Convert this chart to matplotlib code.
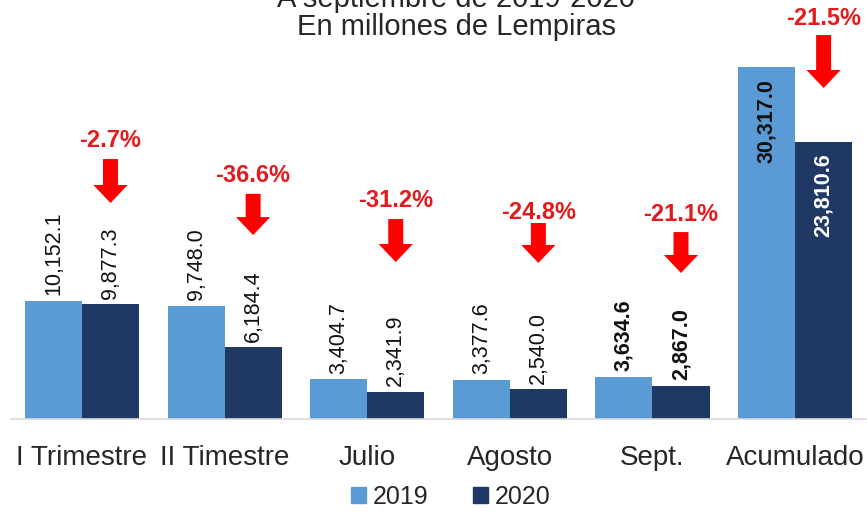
import matplotlib
matplotlib.use("Agg")
import matplotlib.pyplot as plt
from matplotlib.patches import FancyArrow, Rectangle
import numpy as np

plt.rcParams['font.family'] = ['Liberation Sans', 'DejaVu Sans']

categories = ["I Trimestre", "II Timestre", "Julio", "Agosto", "Sept.", "Acumulado"]
values_2019 = [10152.1, 9748.0, 3404.7, 3377.6, 3634.6, 30317.0]
values_2020 = [9877.3, 6184.4, 2341.9, 2540.0, 2867.0, 23810.6]
labels_2019 = ["10,152.1", "9,748.0", "3,404.7", "3,377.6", "3,634.6", "30,317.0"]
labels_2020 = ["9,877.3", "6,184.4", "2,341.9", "2,540.0", "2,867.0", "23,810.6"]
pct_labels = ["-2.7%", "-36.6%", "-31.2%", "-24.8%", "-21.1%", "-21.5%"]

# layout (arrow/text heights in data units)
pct_text_y = [24010, 21000, 18850, 17810, 17560, 34500]
arrow_top = [22375, 19380, 17210, 16870, 16090, 33050]
arrow_tip = [18590, 15830, 13510, 13430, 12570, 28490]

c2019 = "#5B9BD5"
c2020 = "#203864"
red = "#FF0000"
pct_red = "#E31A1C"

fig = plt.figure(figsize=(8.67, 5.16), dpi=100)
ax = fig.add_axes([0.0123, 0.188, 0.987, 0.788])

x = np.arange(len(categories))
w = 0.4
ax.bar(x - w / 2, values_2019, width=w, color=c2019, label="2019")
ax.bar(x + w / 2, values_2020, width=w, color=c2020, label="2020")

ax.set_xlim(-0.5, len(categories) - 0.5)
ax.set_ylim(0, 35000)
ax.set_yticks([])
for s in ["top", "right", "left"]:
    ax.spines[s].set_visible(False)
ax.spines["bottom"].set_color("#D9D9D9")
ax.spines["bottom"].set_linewidth(1.2)
ax.set_xticks(x)
ax.set_xticklabels(categories, fontsize=20, color="#262626")
ax.tick_params(axis="x", length=0, pad=19)

n = len(categories)
for i in range(n):
    bold = i >= n - 2
    fw = "bold" if bold else "normal"
    if i == n - 1:
        ax.annotate(labels_2019[i], (x[i] - w / 2, values_2019[i]), xytext=(0, -9),
                    textcoords="offset points", rotation=90, ha="center", va="top",
                    fontsize=15.5, fontweight="bold", color="#111111")
        ax.annotate(labels_2020[i], (x[i] + w / 2, values_2020[i]), xytext=(0, -8),
                    textcoords="offset points", rotation=90, ha="center", va="top",
                    fontsize=15.5, fontweight="bold", color="white")
    else:
        ax.annotate(labels_2019[i], (x[i] - w / 2, values_2019[i]), xytext=(0, 4),
                    textcoords="offset points", rotation=90, ha="center", va="bottom",
                    fontsize=15.5, fontweight=fw, color="#111111")
        ax.annotate(labels_2020[i], (x[i] + w / 2, values_2020[i]), xytext=(0, 4),
                    textcoords="offset points", rotation=90, ha="center", va="bottom",
                    fontsize=15.5, fontweight=fw, color="#111111")
    # arrow
    length = arrow_top[i] - arrow_tip[i]
    ax.add_patch(FancyArrow(x[i] + w / 2, arrow_top[i], 0, -length, width=0.105,
                            head_width=0.24, head_length=1550,
                            length_includes_head=True, color=red, lw=0))
    ax.text(x[i] + w / 2, pct_text_y[i], pct_labels[i], ha="center", va="center",
            fontsize=17, fontweight="bold", color=pct_red)

fig.text(0.526, 1.0 + 1 / 516, "A septiembre de 2019-2020", ha="center", va="center",
         fontsize=21, color="#262626")
fig.text(0.526, 1 - 27 / 516, "En millones de Lempiras", ha="center", va="center",
         fontsize=21, color="#262626")

handles = [Rectangle((0, 0), 1, 1, color=c2019), Rectangle((0, 0), 1, 1, color=c2020)]
fig.legend(handles, ["2019", "2020"], loc="center", bbox_to_anchor=(0.52, 1 - 497 / 516),
           ncol=2, frameon=False, fontsize=18, handlelength=0.6, handleheight=0.6,
           handletextpad=0.25, columnspacing=1.8, labelcolor="#262626")

fig.savefig("out.png", dpi=100)
